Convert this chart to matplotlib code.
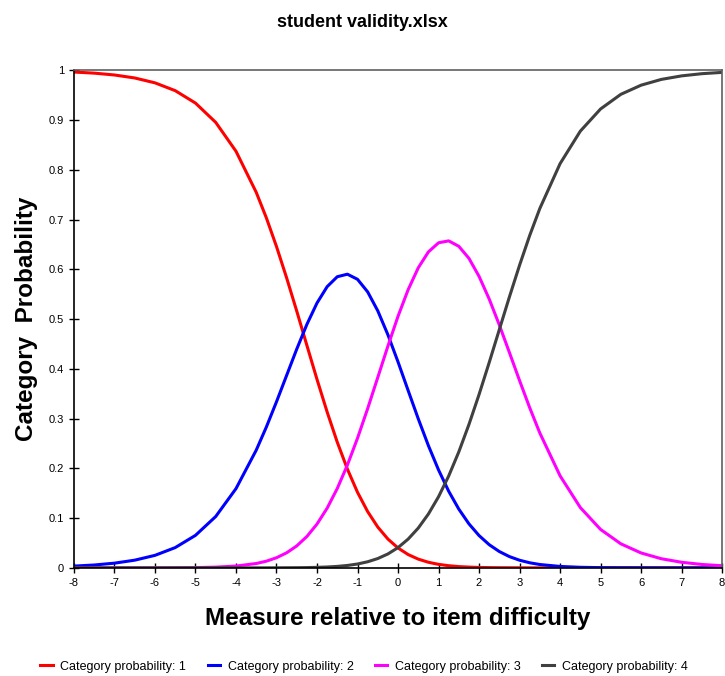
import matplotlib
matplotlib.use('Agg')
import matplotlib.pyplot as plt

plt.rcParams['font.family'] = ['Liberation Sans', 'DejaVu Sans']
plt.rcParams['axes.unicode_minus'] = False

# Values (finer steps around the peaks)
measure = [-8, -7.5, -7, -6.5, -6, -5.5, -5, -4.5, -4, -3.5, -3.25, -3, -2.75, -2.5, -2.25,
           -2, -1.75, -1.5, -1.25, -1, -0.75, -0.5, -0.25, 0, 0.25, 0.5, 0.75, 1, 1.25,
           1.5, 1.75, 2, 2.25, 2.5, 2.75, 3, 3.25, 3.5, 4, 4.5, 5, 5.5, 6, 6.5, 7, 7.5, 8]

cat1 = [0.9965, 0.9943, 0.9906, 0.9846, 0.9748, 0.9591, 0.9341, 0.8953, 0.8373, 0.7547,
        0.7034, 0.6458, 0.5828, 0.5160, 0.4472, 0.3788, 0.3133, 0.2526, 0.1985, 0.1518,
        0.1131, 0.0820, 0.0579, 0.0399, 0.0267, 0.0175, 0.0112, 0.0070, 0.0043, 0.0025,
        0.0015, 0.0008, 0.0005, 0.0003, 0.0002, 0.0001, 0, 0, 0, 0, 0, 0, 0, 0, 0, 0, 0]
cat2 = [0.0035, 0.0057, 0.0094, 0.0154, 0.0251, 0.0407, 0.0653, 0.1032, 0.1592, 0.2366,
        0.2831, 0.3338, 0.3868, 0.4397, 0.4893, 0.5323, 0.5651, 0.5851, 0.5902, 0.5799,
        0.5547, 0.5166, 0.4685, 0.4139, 0.3564, 0.2995, 0.2456, 0.1968, 0.1541, 0.1181,
        0.0885, 0.0649, 0.0466, 0.0328, 0.0226, 0.0153, 0.0102, 0.0067, 0.0028, 0.0011,
        0.0004, 0.0002, 0.0001, 0, 0, 0, 0]
cat3 = [0, 0, 0, 0, 0.0001, 0.0002, 0.0005, 0.0014, 0.0036, 0.0087,
        0.0134, 0.0203, 0.0302, 0.0441, 0.0630, 0.0880, 0.1199, 0.1595, 0.2066, 0.2606,
        0.3200, 0.3827, 0.4456, 0.5056, 0.5591, 0.6031, 0.6350, 0.6533, 0.6572, 0.6463,
        0.6221, 0.5859, 0.5404, 0.4883, 0.4327, 0.3764, 0.3219, 0.2711, 0.1850, 0.1212,
        0.0772, 0.0483, 0.0299, 0.0183, 0.0112, 0.0068, 0.0042]
cat4 = [0, 0, 0, 0, 0, 0, 0, 0, 0, 0,
        0, 0.0001, 0.0002, 0.0003, 0.0005, 0.0010, 0.0017, 0.0029, 0.0048, 0.0077,
        0.0122, 0.0187, 0.0279, 0.0407, 0.0578, 0.0800, 0.1082, 0.1429, 0.1845, 0.2330,
        0.2880, 0.3483, 0.4125, 0.4787, 0.5446, 0.6082, 0.6679, 0.7222, 0.8123, 0.8777,
        0.9223, 0.9517, 0.9701, 0.9817, 0.9888, 0.9932, 0.9958]

series = [cat1, cat2, cat3, cat4]
labels = ['Category probability: 1', 'Category probability: 2',
          'Category probability: 3', 'Category probability: 4']
colors = ['#ff0000', '#0000ff', '#ff00ff', '#404040']

fig = plt.figure(figsize=(7.25, 6.76), dpi=100)
ax = fig.add_axes([0.102, 0.16, 0.894, 0.736])

for vals, lab, col in zip(series, labels, colors):
    ax.plot(measure, vals, color=col, linewidth=2.2, label=lab)

ax.set_xlim(-8, 8)
ax.set_ylim(0, 1)
ax.set_xticks(range(-8, 9))
ax.set_yticks([i / 10 for i in range(11)])
ax.set_yticklabels(['0'] + ['0.%d' % i for i in range(1, 10)] + ['1'])
ax.tick_params(direction='inout', length=7, width=1, labelsize=8, colors='black')

for side in ['left', 'bottom']:
    ax.spines[side].set_color('black')
    ax.spines[side].set_linewidth(1.2)
for side in ['top', 'right']:
    ax.spines[side].set_color('#606060')
    ax.spines[side].set_linewidth(1.2)

fig.text(0.5, 0.966, 'student validity.xlsx', ha='center', va='center',
         fontsize=13, fontweight='bold')
ax.set_xlabel('Measure relative to item difficulty', fontsize=17.5, fontweight='bold', labelpad=14)
ax.set_ylabel('Category  Probability', fontsize=17.5, fontweight='bold', labelpad=8)

fig.legend(loc='center', bbox_to_anchor=(0.502, 0.014), ncol=4, frameon=False,
           fontsize=9, handlelength=1.0, columnspacing=1.7, handletextpad=0.6)

fig.savefig('out.png', dpi=100)
